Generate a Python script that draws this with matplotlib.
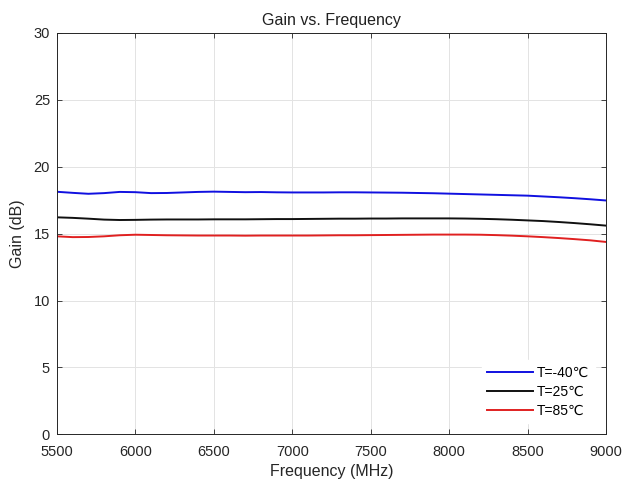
import numpy as np
import matplotlib
matplotlib.use("Agg")
import matplotlib.pyplot as plt

plt.rcParams['font.family'] = ['Liberation Sans', 'DejaVu Sans']

# частоты, МГц
freq = np.arange(5500, 9001, 100)

# коэффициент усиления, дБ
gain_m40 = [18.13, 18.05, 17.98, 18.03, 18.12, 18.10, 18.03, 18.04, 18.08, 18.12,
            18.14, 18.12, 18.10, 18.11, 18.09, 18.08, 18.08, 18.08, 18.09, 18.09,
            18.08, 18.07, 18.06, 18.04, 18.02, 17.99, 17.96, 17.93, 17.90, 17.87,
            17.84, 17.78, 17.72, 17.65, 17.57, 17.48]
gain_25 = [16.22, 16.18, 16.12, 16.05, 16.02, 16.03, 16.05, 16.06, 16.06, 16.06,
           16.07, 16.07, 16.07, 16.08, 16.09, 16.09, 16.10, 16.11, 16.12, 16.12,
           16.13, 16.13, 16.14, 16.14, 16.14, 16.14, 16.13, 16.11, 16.08, 16.04,
           15.99, 15.94, 15.87, 15.79, 15.70, 15.60]
gain_85 = [14.80, 14.74, 14.75, 14.80, 14.88, 14.92, 14.90, 14.88, 14.87, 14.86,
           14.86, 14.86, 14.85, 14.86, 14.86, 14.86, 14.86, 14.87, 14.88, 14.88,
           14.89, 14.90, 14.91, 14.92, 14.93, 14.93, 14.93, 14.92, 14.89, 14.85,
           14.80, 14.74, 14.67, 14.59, 14.50, 14.38]

labels = ["T=-40\u2103", "T=25\u2103", "T=85\u2103"]
colors = ["#1010e0", "#101010", "#e02020"]

fig = plt.figure(figsize=(6.25, 4.83), dpi=100)
ax = fig.add_axes([0.0912, 0.1008, 0.8784, 0.8309])

for g, lab, c in zip([gain_m40, gain_25, gain_85], labels, colors):
    ax.plot(freq, g, color=c, lw=1.4, label=lab)

ax.set_xlim(5500, 9000)
ax.set_ylim(0, 30)
ax.set_xticks(np.arange(5500, 9001, 500))
ax.set_yticks(np.arange(0, 31, 5))
ax.grid(True, color="#e3e3e3", lw=0.7)
ax.set_axisbelow(True)
ax.tick_params(direction="in", top=True, right=True, labelsize=10.5,
               colors="#262626", length=3.5, width=0.6)
ax.tick_params(axis="x", pad=8)
ax.tick_params(axis="y", pad=5)
for s in ax.spines.values():
    s.set_color("#262626")
    s.set_linewidth(0.7)

ax.set_title("Gain vs. Frequency", fontsize=11.5, color="#202020", pad=6)
ax.set_xlabel("Frequency (MHz)", fontsize=11.5, color="#262626", labelpad=3)
ax.set_ylabel("Gain (dB)", fontsize=11.5, color="#262626", labelpad=6)

leg = ax.legend(loc="lower right", fontsize=10, frameon=True, fancybox=False,
                handlelength=3.3, handletextpad=0.3, labelspacing=0.35,
                borderaxespad=0.8)
leg.get_frame().set_edgecolor("white")
leg.get_frame().set_alpha(1.0)

plt.savefig("out.png", dpi=100)
